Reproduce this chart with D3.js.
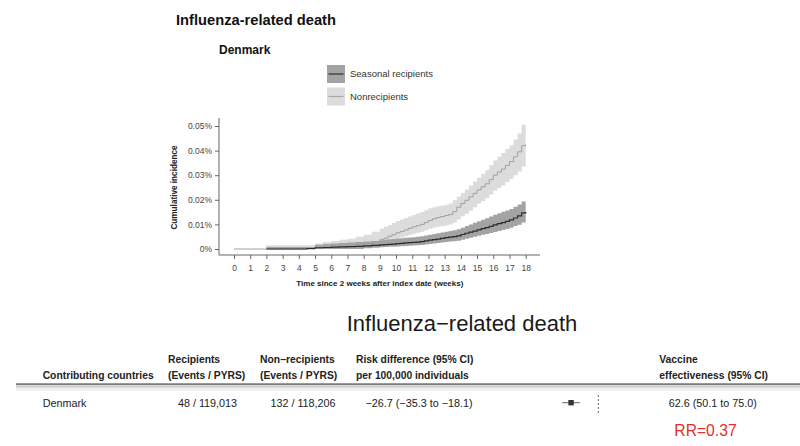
<!DOCTYPE html>
<html>
<head>
<meta charset="utf-8">
<script src="https://cdn.jsdelivr.net/npm/d3@7"></script>
<style>
  body { margin: 0; background: #fff; }
  svg { display: block; font-family: "Liberation Sans", Arial, Helvetica, sans-serif; }
</style>
</head>
<body>
<div id="chart"></div>
<script>
// Cumulative incidence per 100,000 (0.01% = 10)
// half weeks up to 9, quarter weeks after that where the curves rise
var weeks = [0, 0.5, 1, 1.5, 2, 2.5, 3, 3.5, 4, 4.5, 5, 5.5, 6, 6.5, 7, 7.5, 8, 8.5,
             9, 9.25, 9.5, 9.75, 10, 10.25, 10.5, 10.75, 11, 11.25, 11.5, 11.75,
             12, 12.25, 12.5, 12.75, 13, 13.25, 13.5, 13.75, 14, 14.25, 14.5, 14.75,
             15, 15.25, 15.5, 15.75, 16, 16.25, 16.5, 16.75, 17, 17.25, 17.5, 17.75, 18];

var nonrecipEst = [0, 0, 0, 0, 0, 0, 0, 0, 0, 0, 0.3, 0.5, 0.8, 1.0, 1.3, 1.7, 2.2, 2.9,
                   3.8, 4.4, 5.2, 5.8, 6.6, 7.1, 7.7, 8.4, 9.0, 9.5, 10.0, 10.8,
                   11.6, 12.3, 12.8, 13.2, 13.6, 14.0, 15.2, 17.0, 18.5, 19.8, 21.2, 22.6,
                   24.0, 25.3, 26.5, 28.2, 30.0, 31.3, 32.5, 34.0, 35.5, 37.5, 39.5, 42.0, 42.5];
var nonrecipLo = [0, 0, 0, 0, 0, 0, 0, 0, 0, 0, 0, 0, 0, 0, 0.2, 0.4, 0.7, 1.2,
                  1.8, 2.3, 2.9, 3.5, 4.2, 4.7, 5.2, 5.7, 6.2, 6.6, 7.0, 7.6,
                  8.2, 8.7, 9.0, 9.2, 9.6, 10.0, 10.8, 12.0, 13.3, 14.3, 15.5, 17.0,
                  18.5, 19.5, 20.6, 22.2, 23.8, 24.8, 25.8, 27.2, 28.6, 30.0, 31.5, 33.5, 34.0];
var nonrecipHi = [0, 0, 0, 0, 1.5, 1.5, 1.5, 1.5, 1.5, 1.5, 2.2, 2.8, 3.3, 3.8, 4.2, 5.0, 5.8, 7.0,
                  8.2, 9.0, 9.8, 10.6, 11.4, 12.0, 12.6, 13.2, 13.8, 14.4, 15.0, 15.8,
                  16.6, 17.0, 17.4, 17.7, 18.0, 18.5, 19.8, 21.2, 22.8, 24.2, 25.8, 27.4,
                  29.0, 30.5, 32.0, 34.0, 36.0, 37.5, 39.0, 40.6, 42.2, 44.5, 47.0, 50.5, 51.0];

var seasonalEst = [null, null, null, null, 0, 0, 0, 0, 0, 0.2, 0.5, 0.6, 0.8, 0.9, 1.0, 1.1, 1.3, 1.5,
                   1.7, 1.8, 1.9, 2.0, 2.2, 2.3, 2.5, 2.6, 2.7, 2.8, 3.0, 3.3,
                   3.6, 3.8, 4.0, 4.3, 4.6, 4.8, 5.0, 5.3, 5.9, 6.4, 6.9, 7.3,
                   7.8, 8.3, 8.7, 9.2, 9.8, 10.3, 10.7, 11.2, 11.8, 12.6, 13.5, 14.7, 15.0];
var seasonalLo = [null, null, null, null, 0, 0, 0, 0, 0, 0, 0, 0, 0, 0, 0, 0, 0.3, 0.5,
                  0.7, 0.8, 0.9, 0.95, 1.0, 1.1, 1.2, 1.3, 1.4, 1.5, 1.6, 1.8,
                  2.0, 2.2, 2.4, 2.6, 2.8, 3.0, 3.2, 3.4, 3.8, 4.2, 4.6, 5.0,
                  5.4, 5.8, 6.1, 6.5, 6.9, 7.3, 7.7, 8.1, 8.6, 9.3, 9.9, 10.8, 11.0];
var seasonalHi = [null, null, null, null, 0.8, 0.8, 0.8, 0.8, 0.8, 0.8, 1.7, 2.0, 2.2, 2.4, 2.6, 2.8, 3.0, 3.3,
                  3.6, 3.8, 4.0, 4.1, 4.3, 4.4, 4.6, 4.7, 4.8, 5.0, 5.2, 5.5,
                  5.8, 6.1, 6.4, 6.7, 7.0, 7.3, 7.6, 8.0, 8.6, 9.3, 10.0, 10.7,
                  11.3, 11.9, 12.5, 13.2, 13.9, 14.5, 15.1, 15.7, 16.3, 17.2, 18.1, 19.3, 19.5];

var xTicks = [0, 1, 2, 3, 4, 5, 6, 7, 8, 9, 10, 11, 12, 13, 14, 15, 16, 17, 18];
var yTicks = [0, 10, 20, 30, 40, 50];
var yTickLabels = ["0%", "0.01%", "0.02%", "0.03%", "0.04%", "0.05%"];

var legendLabels = ["Seasonal recipients", "Nonrecipients"];

// Forest table
var headerTop = ["", "Recipients", "Non\u2212recipients", "Risk difference (95% CI)", "Vaccine"];
var headerBottom = ["Contributing countries", "(Events / PYRS)", "(Events / PYRS)", "per 100,000 individuals", "effectiveness (95% CI)"];
var rowCountry = ["Denmark"];
var rowRecipients = ["48 / 119,013"];
var rowNonrecipients = ["132 / 118,206"];
var rowRiskText = ["\u221226.7 (\u221235.3 to \u221218.1)"];
var rowRisk = [-26.7];
var rowRiskLo = [-35.3];
var rowRiskHi = [-18.1];
var rowVE = ["62.6 (50.1 to 75.0)"];
var rrNote = "RR=0.37";

var svg = d3.select("#chart")
    .append("svg")
    .attr("width", 800)
    .attr("height", 446);

// ---------- top panel: cumulative incidence curves ----------
var frame = { left: 219, right: 540, top: 118, bottom: 255 };

var x = d3.scaleLinear().domain([0, 18]).range([234, 525.7]);
var y = d3.scaleLinear().domain([0, 50]).range([249, 126]);

svg.append("text")
    .attr("x", 176).attr("y", 25)
    .style("font-size", "14.7px").style("font-weight", "bold").attr("fill", "#111")
    .text("Influenza-related death");

svg.append("text")
    .attr("x", 219).attr("y", 54)
    .style("font-size", "12px").style("font-weight", "bold").attr("fill", "#111")
    .text("Denmark");

// legend
var legendFill = ["#a3a3a3", "#dcdcdc"];
var legendLine = ["#303030", "#a8a8a8"];
var legend = svg.selectAll(".legendItem")
    .data(legendLabels)
    .enter()
    .append("g")
    .attr("class", "legendItem")
    .attr("transform", function(d, i) { return "translate(327," + (65 + i * 22.5) + ")"; });
legend.append("rect")
    .attr("width", 18).attr("height", 18)
    .attr("fill", function(d, i) { return legendFill[i]; });
legend.append("line")
    .attr("x1", 1.5).attr("x2", 16.5).attr("y1", 9).attr("y2", 9)
    .attr("stroke", function(d, i) { return legendLine[i]; })
    .attr("stroke-width", 1.2);
legend.append("text")
    .attr("x", 23).attr("y", 9).attr("dy", "0.35em")
    .style("font-size", "9.5px").attr("fill", "#333")
    .text(function(d) { return d; });

var rows = weeks.map(function(w, i) {
    return { w: w,
             nEst: nonrecipEst[i], nLo: nonrecipLo[i], nHi: nonrecipHi[i],
             sEst: seasonalEst[i], sLo: seasonalLo[i], sHi: seasonalHi[i] };
});

var nonrecipBand = d3.area()
    .curve(d3.curveStepAfter)
    .x(function(d) { return x(d.w); })
    .y0(function(d) { return y(d.nLo); })
    .y1(function(d) { return y(d.nHi); });
var seasonalBand = d3.area()
    .curve(d3.curveStepAfter)
    .defined(function(d) { return d.sEst !== null; })
    .x(function(d) { return x(d.w); })
    .y0(function(d) { return y(d.sLo); })
    .y1(function(d) { return y(d.sHi); });
var nonrecipLine = d3.line()
    .curve(d3.curveStepAfter)
    .x(function(d) { return x(d.w); })
    .y(function(d) { return y(d.nEst); });
var seasonalLine = d3.line()
    .curve(d3.curveStepAfter)
    .defined(function(d) { return d.sEst !== null; })
    .x(function(d) { return x(d.w); })
    .y(function(d) { return y(d.sEst); });

svg.append("path").datum(rows).attr("d", nonrecipBand).attr("fill", "#dcdcdc");
svg.append("path").datum(rows).attr("d", seasonalBand).attr("fill", "#a3a3a3");
svg.append("path").datum(rows).attr("d", nonrecipLine)
    .attr("fill", "none").attr("stroke", "#a0a0a0").attr("stroke-width", 1);
svg.append("path").datum(rows).attr("d", seasonalLine)
    .attr("fill", "none").attr("stroke", "#2b2b2b").attr("stroke-width", 1.2);

// axes (L-shaped frame, ticks pointing out)
svg.append("line")
    .attr("x1", frame.left).attr("x2", frame.left).attr("y1", frame.top).attr("y2", frame.bottom)
    .attr("stroke", "#666").attr("stroke-width", 1);
svg.append("line")
    .attr("x1", frame.left).attr("x2", frame.right).attr("y1", frame.bottom).attr("y2", frame.bottom)
    .attr("stroke", "#666").attr("stroke-width", 1);

var yAxis = svg.append("g")
    .attr("transform", "translate(" + frame.left + ",0)")
    .call(d3.axisLeft(y).tickValues(yTicks).tickSize(4).tickPadding(3)
        .tickFormat(function(d, i) { return yTickLabels[i]; }));
var xAxis = svg.append("g")
    .attr("transform", "translate(0," + frame.bottom + ")")
    .call(d3.axisBottom(x).tickValues(xTicks).tickSize(4).tickPadding(6));
[yAxis, xAxis].forEach(function(ax) {
    ax.select(".domain").remove();
    ax.selectAll("line").attr("stroke", "#666");
    ax.selectAll("text")
        .style("font-size", "8.5px")
        .style("font-family", "\"Liberation Sans\", Arial, sans-serif")
        .attr("fill", "#444");
});

svg.append("text")
    .attr("transform", "translate(177," + y(25) + ") rotate(-90)")
    .attr("text-anchor", "middle")
    .style("font-size", "8.2px").style("font-weight", "bold").attr("fill", "#222")
    .text("Cumulative incidence");

svg.append("text")
    .attr("x", x(9)).attr("y", 286)
    .attr("text-anchor", "middle")
    .style("font-size", "8px").style("font-weight", "bold").attr("fill", "#222")
    .text("Time since 2 weeks after index date (weeks)");

// ---------- bottom panel: forest table ----------
svg.append("text")
    .attr("x", 462).attr("y", 331)
    .attr("text-anchor", "middle")
    .style("font-size", "22px").attr("fill", "#1a1a1a")
    .text("Influenza\u2212related death");

// header cells are left aligned on their columns
var colX = [42.7, 168, 260, 356, 659.3];
svg.selectAll(".headTop")
    .data(headerTop)
    .enter()
    .append("text")
    .attr("class", "headTop")
    .attr("x", function(d, i) { return colX[i]; })
    .attr("y", 363)
    .style("font-size", "10.3px").style("font-weight", "bold").attr("fill", "#222")
    .text(function(d) { return d; });
svg.selectAll(".headBottom")
    .data(headerBottom)
    .enter()
    .append("text")
    .attr("class", "headBottom")
    .attr("x", function(d, i) { return colX[i]; })
    .attr("y", 379)
    .style("font-size", "10.3px").style("font-weight", "bold").attr("fill", "#222")
    .text(function(d) { return d; });

svg.append("line")
    .attr("x1", 16).attr("x2", 800).attr("y1", 384.3).attr("y2", 384.3)
    .attr("stroke", "#7a7a7a").attr("stroke-width", 2);
svg.append("line")
    .attr("x1", 16).attr("x2", 800).attr("y1", 386.8).attr("y2", 386.8)
    .attr("stroke", "#cfcfcf").attr("stroke-width", 2);
svg.append("rect")
    .attr("x", 16).attr("y", 388).attr("width", 784).attr("height", 3)
    .attr("fill", "#f0f0f0");

// body cells: country left aligned, numbers centred under their headers
var rowY = 406.5;
var rowCells = [
    { x: 42.7, anchor: "start", vals: rowCountry },
    { x: 207.5, anchor: "middle", vals: rowRecipients },
    { x: 303, anchor: "middle", vals: rowNonrecipients },
    { x: 419, anchor: "middle", vals: rowRiskText },
    { x: 712.8, anchor: "middle", vals: rowVE }
];
rowCells.forEach(function(c) {
    svg.selectAll(null)
        .data(c.vals)
        .enter()
        .append("text")
        .attr("x", c.x)
        .attr("y", function(d, i) { return rowY + i * 20; })
        .attr("text-anchor", c.anchor)
        .style("font-size", "10.8px").attr("fill", "#222")
        .text(function(d) { return d; });
});

// forest marks: risk difference with reference line at 0
var fx = d3.scaleLinear().domain([-40, 5]).range([557.5, 603.4]);
svg.append("line")
    .attr("x1", fx(0)).attr("x2", fx(0)).attr("y1", 395).attr("y2", 413)
    .attr("stroke", "#555").attr("stroke-width", 0.9).attr("stroke-dasharray", "2,2");
svg.selectAll(".ci")
    .data(rowRisk)
    .enter()
    .append("line")
    .attr("class", "ci")
    .attr("x1", function(d, i) { return fx(rowRiskLo[i]); })
    .attr("x2", function(d, i) { return fx(rowRiskHi[i]); })
    .attr("y1", function(d, i) { return 402.7 + i * 20; })
    .attr("y2", function(d, i) { return 402.7 + i * 20; })
    .attr("stroke", "#666").attr("stroke-width", 1);
svg.selectAll(".pt")
    .data(rowRisk)
    .enter()
    .append("rect")
    .attr("class", "pt")
    .attr("x", function(d) { return fx(d) - 2.7; })
    .attr("y", function(d, i) { return 402.7 + i * 20 - 2.7; })
    .attr("width", 5.4).attr("height", 5.4)
    .attr("fill", "#333");

svg.append("text")
    .attr("x", 674.3).attr("y", 435.7)
    .style("font-size", "15.7px").attr("fill", "#e2302a")
    .text(rrNote);
</script>
</body>
</html>
